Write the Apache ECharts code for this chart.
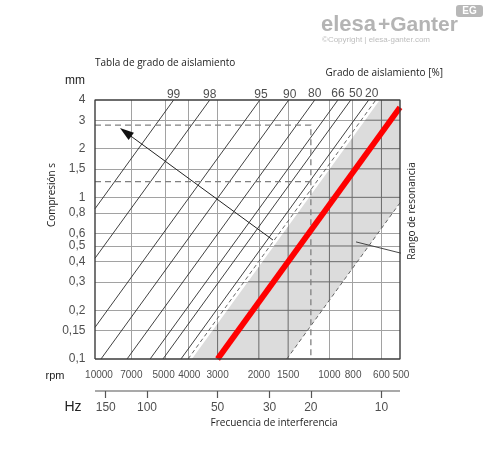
<!DOCTYPE html>
<html><head><meta charset="utf-8">
<script src="https://cdn.jsdelivr.net/npm/echarts@6/dist/echarts.min.js"></script>
<style>html,body{margin:0;padding:0;background:#fff}#c{width:488px;height:454px}</style>
</head><body><div id="c"></div>
<script>
// ---- data ----
const rpmTicks = [10000, 7000, 5000, 4000, 3000, 2000, 1500, 1000, 800, 600, 500];
const sTicks = [0.1, 0.15, 0.2, 0.3, 0.4, 0.5, 0.6, 0.8, 1, 1.5, 2, 3, 4];
const sTickLabels = ['0,1','0,15','0,2','0,3','0,4','0,5','0,6','0,8','1','1,5','2','3','4'];
const hzTicks = [150, 100, 50, 30, 20, 10];
const isoLabels = ['99', '98', '95', '90', '80', '66', '50', '20'];
const isoStart = [[10000,0.85],[10000,0.42],[10000,0.157],[9430,0.1],[7300,0.1],[5820,0.1],[5130,0.1],[4300,0.1]];
const isoEnd = [[4620,4],[3240,4],[1980,4],[1491,4],[1155,4],[920,4],[811,4],[680,4]];
const dashedIso = [[4010,0.1],[634,4]];
const resonanceLine = [[3000,0.1],[500,3.6]];
const resonanceArea = [[3860,0.1],[610,4],[500,4],[500,0.925],[1520,0.1]];
const resonanceEdge = [[1520,0.1],[500,0.925]];
const exampleUpper = [[10000,2.8],[1200,2.8],[1200,0.1]];
const exampleLower = [[10000,1.25],[1200,1.25]];
const arrowFrom = [1741,0.544];
const arrowTo = [7825,2.68];
const leader = [[770,0.53],[476,0.445]];
const rpmMin = 500, rpmMax = 10000, sMin = 0.1, sMax = 4;

// ---- chart ----
const chart = echarts.init(document.getElementById('c'), null, {renderer:'canvas'});
const numFont = 'Liberation Sans, Arial, sans-serif';
const txtFont = 'Open Sans, Noto Sans, sans-serif';
const gridColor = '#a2a2a2';
const gridColorDark = '#6a6a6a';

const vGridVals = rpmTicks.filter(v => v !== rpmMin && v !== rpmMax);
const hGridVals = sTicks.filter(v => v !== sMin && v !== sMax);
const vGrid = vGridVals.map(v => ({coords: [[v, sMin], [v, sMax]]}));
const hGrid = hGridVals.map(v => ({coords: [[rpmMax, v], [rpmMin, v]]}));
const isoData = isoStart.map((p, i) => ({coords: [p, isoEnd[i]]}));
const labelOffsets = [[0,2],[0,2],[1,2],[1,2],[0,1],[0,1],[5,1],[3,1]];
const rpmLabelOffsets = [[4,0],[0,0],[-2,0],[1,0],[0,0],[0,0],[0,0],[0,0],[1,0],[0,0],[1,0]];

const hzMin = rpmMin / 60, hzMax = rpmMax / 60;

const option = {
  animation: false,
  grid: [
    {left: 95, top: 100, width: 305, height: 259, show: false},
    {left: 95, top: 391, width: 305, height: 7, show: false}
  ],
  xAxis: [
    {type: 'log', min: rpmMin, max: rpmMax, inverse: true, gridIndex: 0, show: false},
    {type: 'log', min: hzMin, max: hzMax, inverse: true, gridIndex: 1, show: false}
  ],
  yAxis: [
    {type: 'log', min: sMin, max: sMax, gridIndex: 0, show: false},
    {type: 'value', min: 0, max: 1, inverse: true, gridIndex: 1, show: false}
  ],
  series: [
    { type: 'lines', coordinateSystem: 'cartesian2d', xAxisIndex: 0, yAxisIndex: 0, z: 1, silent: true,
      data: vGrid.concat(hGrid),
      lineStyle: {color: gridColor, width: 1, opacity: 1, curveness: 0}
    },
    { // resonance range (gray) with darker grid inside
      type: 'custom', xAxisIndex: 0, yAxisIndex: 0, z: 2, silent: true,
      data: [resonanceArea[0]],
      renderItem: (params, api) => {
        const pts = resonanceArea.map(p => api.coord(p));
        const lines = [];
        vGridVals.forEach(v => {
          const a = api.coord([v, sMin]), b = api.coord([v, sMax]);
          lines.push({type: 'line', shape: {x1: a[0], y1: a[1], x2: b[0], y2: b[1]}, style: {stroke: gridColorDark, lineWidth: 1}});
        });
        hGridVals.forEach(v => {
          const a = api.coord([rpmMax, v]), b = api.coord([rpmMin, v]);
          lines.push({type: 'line', shape: {x1: a[0], y1: a[1], x2: b[0], y2: b[1]}, style: {stroke: gridColorDark, lineWidth: 1}});
        });
        return {type: 'group', children: [
          {type: 'polygon', shape: {points: pts}, style: {fill: '#dcdcdc'}},
          {type: 'group', children: lines, clipPath: {type: 'polygon', shape: {points: pts}}}
        ]};
      }
    },
    { type: 'lines', coordinateSystem: 'cartesian2d', xAxisIndex: 0, yAxisIndex: 0, z: 3, silent: true,
      data: isoData,
      lineStyle: {color: '#2b2b2b', width: 0.9, opacity: 1, curveness: 0}
    },
    { type: 'lines', coordinateSystem: 'cartesian2d', xAxisIndex: 0, yAxisIndex: 0, z: 3, silent: true,
      data: [{coords: dashedIso}, {coords: resonanceEdge}],
      lineStyle: {color: '#555', width: 0.9, opacity: 1, type: [4, 3], curveness: 0}
    },
    { type: 'lines', coordinateSystem: 'cartesian2d', xAxisIndex: 0, yAxisIndex: 0, z: 3, silent: true,
      data: [{coords: exampleUpper}, {coords: exampleLower}],
      polyline: true,
      lineStyle: {color: '#808080', width: 1.3, opacity: 1, type: [6, 4]}
    },
    { type: 'line', xAxisIndex: 0, yAxisIndex: 0, z: 4, silent: true, clip: true,
      data: resonanceLine, symbol: 'none',
      lineStyle: {color: '#ff0000', width: 5.8, cap: 'butt'}
    },
    { // arrow
      type: 'custom', xAxisIndex: 0, yAxisIndex: 0, z: 5, silent: true, clip: false,
      data: [arrowFrom],
      renderItem: (params, api) => {
        const a = api.coord(arrowFrom), b = api.coord(arrowTo);
        const dx = b[0] - a[0], dy = b[1] - a[1], L = Math.hypot(dx, dy), ux = dx / L, uy = dy / L;
        const hl = 14, hw = 4.5;
        const base = [b[0] - ux * hl, b[1] - uy * hl];
        return {type: 'group', children: [
          {type: 'line', shape: {x1: a[0], y1: a[1], x2: base[0] + ux * 2, y2: base[1] + uy * 2}, style: {stroke: '#222', lineWidth: 1}},
          {type: 'polygon', shape: {points: [b, [base[0] - uy * hw, base[1] + ux * hw], [base[0] + uy * hw, base[1] - ux * hw]]}, style: {fill: '#111'}}
        ]};
      }
    },
    { // leader line for the resonance label
      type: 'line', xAxisIndex: 0, yAxisIndex: 0, z: 5, silent: true, clip: false,
      data: leader, symbol: 'none', lineStyle: {color: '#333', width: 0.9}
    },
    { // frame
      type: 'line', xAxisIndex: 0, yAxisIndex: 0, z: 6, silent: true, clip: false,
      data: [[rpmMax, sMin], [rpmMin, sMin], [rpmMin, sMax], [rpmMax, sMax], [rpmMax, sMin]],
      symbol: 'none', lineStyle: {color: '#3c3c3c', width: 1.4}
    },
    { // y labels
      type: 'scatter', xAxisIndex: 0, yAxisIndex: 0, z: 7, silent: true, clip: false,
      symbolSize: 1, itemStyle: {color: 'rgba(0,0,0,0)'},
      data: sTicks.map((v, i) => ({value: [rpmMax, v], label: {formatter: sTickLabels[i]}})),
      label: {show: true, position: 'left', distance: 9, color: '#222', fontSize: 12, fontFamily: numFont}
    },
    { // rpm labels
      type: 'scatter', xAxisIndex: 0, yAxisIndex: 0, z: 7, silent: true, clip: false,
      symbolSize: 1, itemStyle: {color: 'rgba(0,0,0,0)'},
      data: rpmTicks.map((v, i) => ({value: [v, sMin], label: {formatter: String(v), offset: rpmLabelOffsets[i]}})),
      label: {show: true, position: 'bottom', distance: 11, color: '#222', fontSize: 10, fontFamily: numFont}
    },
    { // isolation degree labels
      type: 'scatter', xAxisIndex: 0, yAxisIndex: 0, z: 7, silent: true, clip: false,
      symbolSize: 1, itemStyle: {color: 'rgba(0,0,0,0)'},
      data: isoEnd.map((p, i) => ({value: p, label: {formatter: isoLabels[i], offset: labelOffsets[i]}})),
      label: {show: true, position: 'top', distance: 1, color: '#222', fontSize: 12, fontFamily: numFont}
    },
    { // Hz axis line
      type: 'line', xAxisIndex: 1, yAxisIndex: 1, z: 5, silent: true, clip: false,
      data: [[hzMax, 0], [hzMin, 0]], symbol: 'none', lineStyle: {color: '#555', width: 1.2}
    },
    { // Hz ticks
      type: 'lines', coordinateSystem: 'cartesian2d', xAxisIndex: 1, yAxisIndex: 1, z: 5, silent: true, clip: false,
      data: hzTicks.map(v => ({coords: [[v, 0], [v, 1]]})),
      lineStyle: {color: '#555', width: 1.2, opacity: 1, curveness: 0}
    },
    { // Hz labels
      type: 'scatter', xAxisIndex: 1, yAxisIndex: 1, z: 7, silent: true, clip: false,
      symbolSize: 1, itemStyle: {color: 'rgba(0,0,0,0)'},
      data: hzTicks.map(v => ({value: [v, 1], label: {formatter: String(v)}})),
      label: {show: true, position: 'bottom', distance: 3, color: '#222', fontSize: 12, fontFamily: numFont}
    }
  ],
  graphic: [
    {type: 'text', x: 95, y: 63, style: {text: 'Tabla de grado de aislamiento', font: '10px ' + txtFont, fill: '#222', verticalAlign: 'middle'}},
    {type: 'text', x: 443, y: 73, style: {text: 'Grado de aislamiento [%]', font: '10px ' + txtFont, fill: '#222', align: 'right', verticalAlign: 'middle'}},
    {type: 'text', x: 75, y: 81, style: {text: 'mm', font: '12px ' + numFont, fill: '#222', align: 'center', verticalAlign: 'middle'}},
    {type: 'text', x: 52.5, y: 195, rotation: Math.PI / 2, style: {text: 'Compresión s', font: '10px ' + txtFont, fill: '#222', align: 'center', verticalAlign: 'middle'}},
    {type: 'text', x: 412.5, y: 211, rotation: Math.PI / 2, style: {text: 'Rango de resonancia', font: '10px ' + txtFont, fill: '#222', align: 'center', verticalAlign: 'middle'}},
    {type: 'text', x: 55, y: 376, style: {text: 'rpm', font: '11px ' + numFont, fill: '#222', align: 'center', verticalAlign: 'middle'}},
    {type: 'text', x: 73, y: 407, style: {text: 'Hz', font: '14px ' + numFont, fill: '#222', align: 'center', verticalAlign: 'middle'}},
    {type: 'text', x: 274, y: 423, style: {text: 'Frecuencia de interferencia', font: '10px ' + txtFont, fill: '#222', align: 'center', verticalAlign: 'middle'}},
    // logo
    {type: 'text', x: 321, y: 25, style: {text: 'elesa', font: 'bold 22px ' + numFont, fill: '#b4b4b4', verticalAlign: 'middle'}},
    {type: 'text', x: 378, y: 25, style: {text: '+Ganter', font: 'bold 21px ' + numFont, fill: '#b4b4b4', verticalAlign: 'middle'}},
    {type: 'text', x: 322, y: 40, style: {text: '©Copyright | elesa-ganter.com', font: '8px ' + numFont, fill: '#bdbdbd', verticalAlign: 'middle'}},
    {type: 'rect', shape: {x: 456, y: 5, width: 27, height: 12, r: 3}, style: {fill: '#b8b8b8'}},
    {type: 'text', x: 469.5, y: 11.5, style: {text: 'EG', font: 'bold 10px ' + numFont, fill: '#fff', align: 'center', verticalAlign: 'middle'}}
  ]
};
chart.setOption(option);
</script>
</body></html>
